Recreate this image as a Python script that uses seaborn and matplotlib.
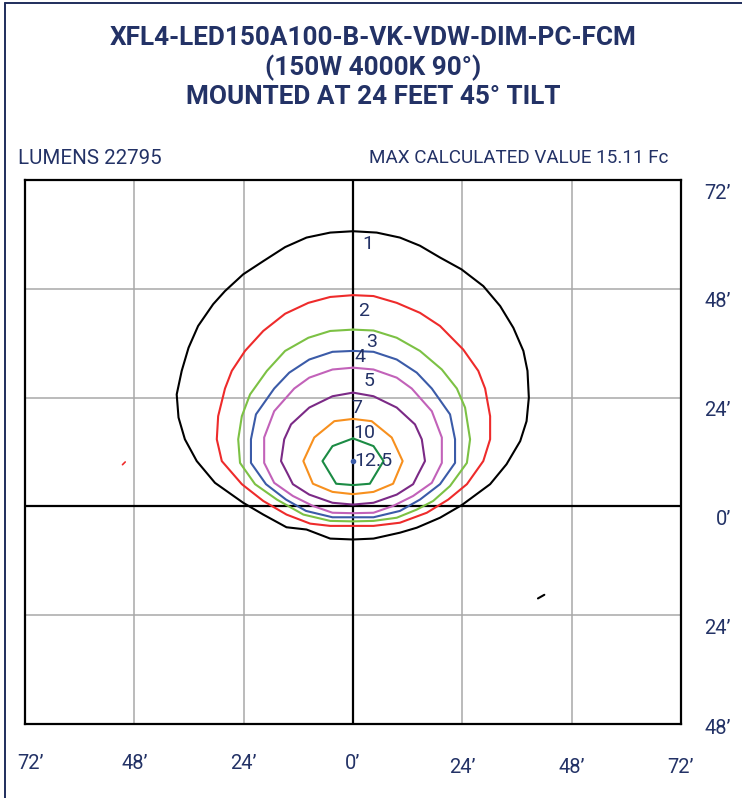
import matplotlib
matplotlib.use("Agg")
import matplotlib.pyplot as plt
import matplotlib.transforms as mtrans
import seaborn as sns
import pandas as pd
from matplotlib.lines import Line2D

# ---------------- data (feet) ----------------
levels = ["1", "2", "3", "4", "5", "7", "10", "12.5"]

c1_x = [0, 5.2, 10.3, 14.7, 19.1, 23.8, 28.6, 32.3, 35.2, 37.4, 38.3, 38.6, 38.1, 36.7, 33.7, 30.1, 23.9, 19.1, 14.0, 10.3, 4.5, 0,
        -5.0, -10.2, -14.6, -19.7, -24.1, -30.3, -34.3, -36.9, -38.3, -38.7, -37.6, -36.1, -34.0, -30.7, -28.1, -24.1, -19.7, -14.9, -10.2, -5.0, 0]
c1_y = [60.7, 60.4, 59.3, 57.5, 54.9, 52.3, 48.6, 44.2, 39.4, 34.3, 29.9, 24.0, 18.8, 14.4, 9.3, 4.9, 0.3, -2.5, -4.7, -5.8, -7.1, -7.3,
        -7.1, -5.1, -4.6, -1.8, 0.8, 5.2, 10.0, 14.8, 19.6, 24.7, 29.9, 35.0, 39.8, 44.6, 47.5, 51.2, 54.1, 57.2, 59.3, 60.4, 60.7]

c2_x = [0, 4.5, 9.6, 14.7, 19.1, 24.2, 27.5, 29.0, 30.1, 30.1, 28.6, 25.0, 20.9, 16.2, 10.3, 4.5, 0,
        -5.0, -9.4, -14.6, -19.7, -24.4, -28.8, -29.9, -29.6, -28.1, -26.6, -23.7, -19.7, -14.9, -9.8, -5.0, 0]
c2_y = [46.6, 46.4, 44.9, 42.7, 39.8, 34.6, 29.9, 26.0, 19.9, 14.8, 10.0, 4.9, 1.5, -1.4, -3.6, -4.3, -4.3,
        -4.3, -3.8, -1.8, 1.2, 4.9, 10.0, 14.8, 19.9, 26.0, 29.9, 34.3, 38.7, 42.5, 44.9, 46.2, 46.6]

c3_x = [0, 4.5, 9.6, 14.7, 19.5, 22.8, 24.6, 25.7, 25.0, 21.3, 17.6, 14.0, 9.6, 4.5, 0,
        -5.0, -10.9, -16.7, -21.5, -24.8, -25.2, -24.4, -22.6, -18.9, -14.9, -9.8, -5.0, 0]
c3_y = [39.0, 38.8, 37.2, 34.3, 30.2, 26.0, 21.8, 14.8, 9.6, 4.5, 1.2, -0.7, -2.5, -3.2, -3.3,
        -3.2, -1.8, 1.5, 4.9, 9.6, 14.8, 19.9, 24.7, 29.9, 34.3, 37.2, 38.7, 39.0]

c4_x = [0, 4.5, 9.6, 14.0, 17.3, 21.3, 22.4, 22.4, 19.1, 14.7, 10.3, 4.5, 0,
        -4.5, -10.3, -14.7, -19.1, -22.4, -22.4, -21.3, -17.3, -14.0, -9.6, -4.5, 0]
c4_y = [34.3, 34.1, 32.4, 29.5, 26.0, 20.3, 14.8, 9.6, 4.9, 1.5, -1.0, -2.4, -2.4,
        -2.4, -1.0, 1.5, 4.9, 9.6, 14.8, 20.3, 26.0, 29.5, 32.4, 34.1, 34.3]

c5_x = [0, 4.5, 9.6, 12.9, 17.3, 19.5, 19.5, 17.3, 13.2, 8.8, 4.5, 0,
        -4.5, -8.8, -13.2, -17.3, -19.5, -19.5, -17.3, -12.9, -9.6, -4.5, 0]
c5_y = [30.6, 30.2, 28.4, 26.0, 21.0, 15.2, 9.6, 5.2, 2.3, 0.1, -1.4, -1.5,
        -1.4, 0.1, 2.3, 5.2, 9.6, 15.2, 21.0, 26.0, 28.4, 30.2, 30.6]

c7_x = [0, 4.5, 9.6, 13.6, 15.1, 15.8, 14.3, 13.2, 9.6, 4.5, 0,
        -4.5, -9.6, -13.2, -14.3, -15.8, -15.1, -13.6, -9.6, -4.5, 0]
c7_y = [25.1, 24.3, 21.8, 18.1, 14.8, 10.0, 7.1, 4.9, 2.6, 0.8, 0.4,
        0.8, 2.6, 4.9, 7.1, 10.0, 14.8, 18.1, 21.8, 24.3, 25.1]

c10_x = [0, 4.1, 8.5, 10.9, 8.8, 4.5, 0, -4.5, -8.8, -10.9, -8.5, -4.1, 0]
c10_y = [19.3, 18.8, 15.2, 10.0, 5.0, 3.2, 2.7, 3.2, 5.0, 10.0, 15.2, 18.8, 19.3]

c12_x = [0, 4.5, 6.7, 3.7, 0, -3.7, -6.7, -4.5, 0]
c12_y = [15.0, 13.3, 10.0, 5.0, 4.7, 5.0, 10.0, 13.3, 15.0]

contour_x = [c1_x, c2_x, c3_x, c4_x, c5_x, c7_x, c10_x, c12_x]
contour_y = [c1_y, c2_y, c3_y, c4_y, c5_y, c7_y, c10_y, c12_y]

label_x = [3.3, 2.4, 4.0, 1.5, 3.5, 0.9, 2.4, 4.4]
label_y = [57.8, 43.2, 36.2, 32.9, 27.6, 21.8, 16.3, 10.1]

# small stray fragments in the original drawing
frag_red_x = [-50.6, -50.0]
frag_red_y = [9.2, 9.8]
frag_blk_x = [40.6, 42.0]
frag_blk_y = [-20.3, -19.5]

x_ticks = [-72, -48, -24, 0, 24, 48, 72]
x_tick_labels = ["72\u2019", "48\u2019", "24\u2019", "0\u2019", "24\u2019", "48\u2019", "72\u2019"]
y_ticks = [72, 48, 24, 0, -24, -48]
y_tick_labels = ["72\u2019", "48\u2019", "24\u2019", "0\u2019", "24\u2019", "48\u2019"]

title_lines = ["XFL4-LED150A100-B-VK-VDW-DIM-PC-FCM", "(150W 4000K 90\u00b0)", "MOUNTED AT 24 FEET 45\u00b0 TILT"]
lumens_text = "LUMENS 22795"
max_text = "MAX CALCULATED VALUE 15.11 Fc"

colors = ["#000000", "#ee2b2b", "#7cc144", "#3b5ba8", "#c262b9", "#7b2a86", "#f7901e", "#1b8b44"]

# ---------------- build frame ----------------
rows = []
for lev, xs, ys in zip(levels, contour_x, contour_y):
    for i, (xv, yv) in enumerate(zip(xs, ys)):
        rows.append({"level": lev, "order": i, "x": xv, "y": yv})
df = pd.DataFrame(rows)

sns.set_theme(style="white")
plt.rcParams["font.family"] = ["Roboto", "DejaVu Sans"]
navy = "#233266"

fig = plt.figure(figsize=(7.42, 7.98), dpi=100)
ax = fig.add_axes([25 / 742, 1 - 724 / 798, 656 / 742, 544 / 798])

# grid
for t in x_ticks[1:-1]:
    ax.axvline(t, color="#a8a8a8", lw=1.1, zorder=1)
for t in y_ticks[1:-1]:
    ax.axhline(t, color="#a8a8a8", lw=1.1, zorder=1)
ax.axvline(0, color="black", lw=1.6, zorder=2)
ax.axhline(0, color="black", lw=1.6, zorder=2)

sns.lineplot(data=df, x="x", y="y", hue="level", hue_order=levels, palette=colors,
             sort=False, estimator=None, units="level", lw=1.5, legend=False, ax=ax, zorder=3)

ax.plot(frag_red_x, frag_red_y, color="#ee2b2b", lw=1.2, zorder=3)
ax.plot(frag_blk_x, frag_blk_y, color="black", lw=1.5, zorder=3)
ax.plot([0], [10.1], marker="o", ms=3, color="#3b5ba8", zorder=4)

for lab, lx, ly in zip(levels, label_x, label_y):
    ax.text(lx, ly, lab, color=navy, fontsize=14, ha="center", va="center", zorder=5)

ax.set_xlim(-72, 72)
ax.set_ylim(-48, 72)
ax.set_xticks([])
ax.set_yticks([])
ax.set_xlabel("")
ax.set_ylabel("")
for s in ax.spines.values():
    s.set_visible(True)
    s.set_color("black")
    s.set_linewidth(1.6)

# tick labels
for t, lab in zip(x_ticks, x_tick_labels):
    yoff = -0.072 if t <= 0 else -0.080
    ax.text(t + (1.2 if t == -72 else 0), yoff, lab, transform=ax.get_xaxis_transform(),
            ha="center", va="center", fontsize=14.5, color=navy)
ylab_tr = mtrans.blended_transform_factory(fig.transFigure, ax.transData)
y_label_drop = [2.9, 2.9, 2.9, 2.9, 2.9, 1.0]
for t, lab, d in zip(y_ticks, y_tick_labels, y_label_drop):
    ax.text(731 / 742, t - d, lab, transform=ylab_tr,
            ha="right", va="center", fontsize=14.5, color=navy)

# titles
title_y = [38, 68, 97]
for line, ty in zip(title_lines, title_y):
    fig.text(373 / 742, 1 - ty / 798, line, ha="center", va="center", fontsize=18.8,
             fontweight="bold", color=navy)
fig.text(18 / 742, 1 - 158 / 798, lumens_text, ha="left", va="center", fontsize=14.8, color=navy)
fig.text(668 / 742, 1 - 158 / 798, max_text, ha="right", va="center", fontsize=13.6, color=navy)

# outer border (left and top)
fig.add_artist(Line2D([5 / 742, 5 / 742], [0, 1 - 3 / 798], transform=fig.transFigure, color="#1f2d5c", lw=1.4))
fig.add_artist(Line2D([5 / 742, 1], [1 - 3 / 798, 1 - 3 / 798], transform=fig.transFigure, color="#1f2d5c", lw=1.4))

fig.savefig("out.png", dpi=100)
